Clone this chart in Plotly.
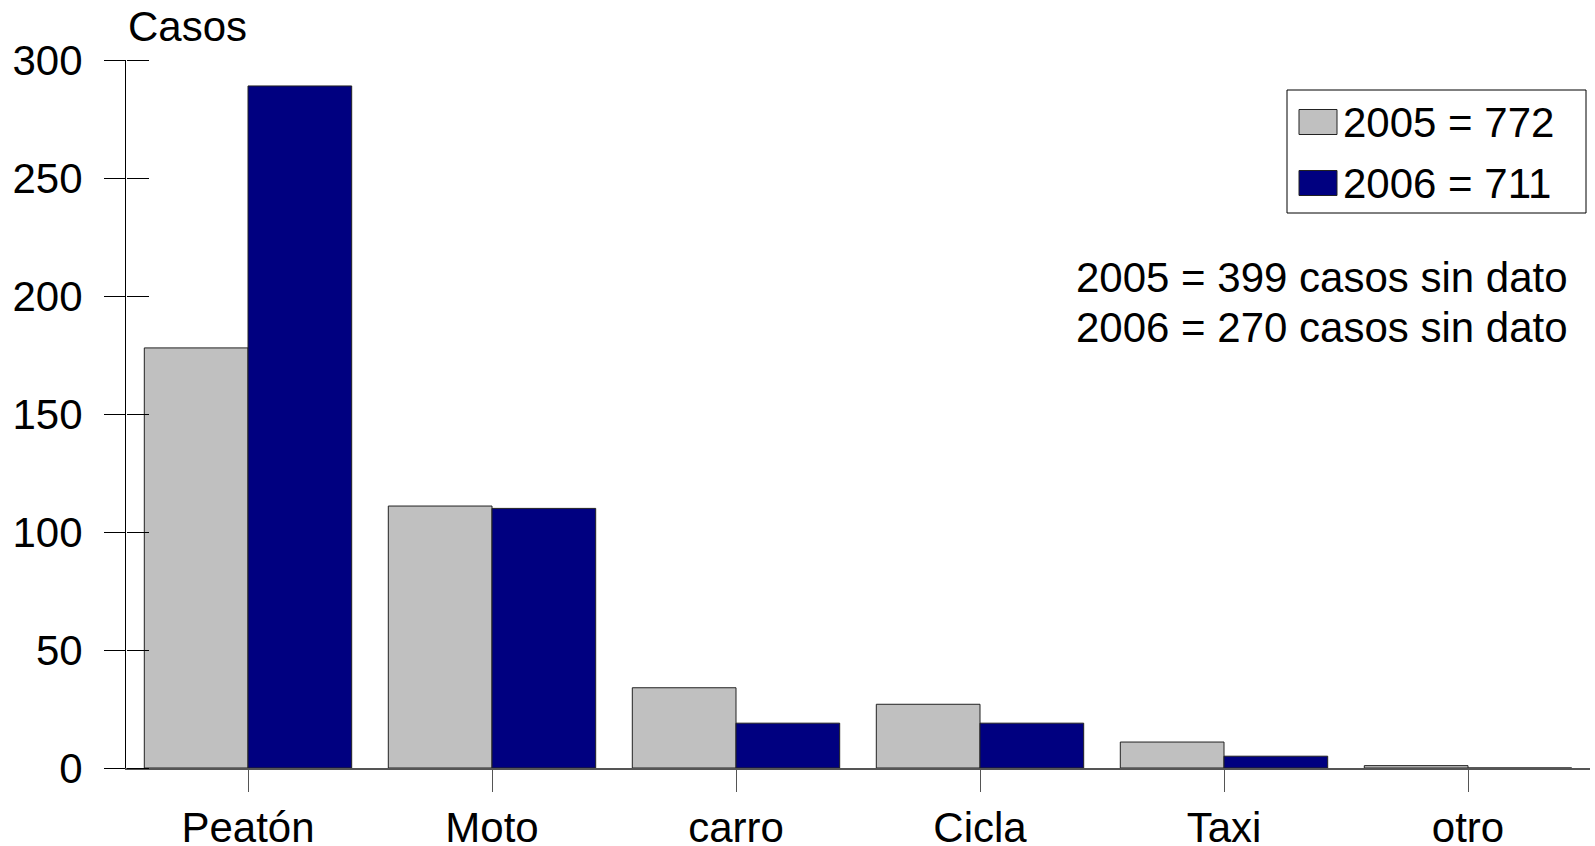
import plotly.graph_objects as go

# Tipo de víctima y número de casos por año
categorias = ["Peatón", "Moto", "carro", "Cicla", "Taxi", "otro"]
casos_2005 = [178, 111, 34, 27, 11, 1]
casos_2006 = [289, 110, 19, 19, 5, 0]

series = ["2005", "2006"]
totales = [772, 711]
sin_dato = [399, 270]

color_2005 = "#C0C0C0"
color_2006 = "#000080"
fuente = "Liberation Sans, Arial, Helvetica, sans-serif"
tam = 42

# Plot area in pixels (used to place the hand-built legend and notes)
W, H = 1595, 846
L, R, T, B = 126, 1590, 60, 768


def px_x(x):
    return (x - L) / (R - L)


def px_y(y):
    return (B - y) / (B - T)


fig = go.Figure()
for nombre, valores, color in [(series[0], casos_2005, color_2005),
                               (series[1], casos_2006, color_2006)]:
    fig.add_trace(go.Bar(
        x=categorias, y=valores, name=nombre,
        marker=dict(color=color, line=dict(color="#222222", width=1)),
        showlegend=False,
    ))

# invisible trace so the tick-only right-facing y axis is rendered
fig.add_trace(go.Scatter(x=categorias, y=casos_2005, yaxis="y2", mode="markers",
                         marker=dict(opacity=0), hoverinfo="skip", showlegend=False))

fig.update_layout(
    width=W, height=H,
    margin=dict(l=L, r=W - R, t=T, b=H - B, autoexpand=False),
    paper_bgcolor="white", plot_bgcolor="white",
    barmode="group", bargap=0.15, bargroupgap=0,
    font=dict(family=fuente, size=tam, color="black"),
    xaxis=dict(
        type="category", range=[-0.5, 5.5], automargin=False,
        showline=True, linecolor="#555555", linewidth=1.5,
        ticks="outside", ticklen=22, tickcolor="#555555", tickwidth=1,
        showgrid=False, zeroline=False,
        tickfont=dict(family=fuente, size=tam, color="black"),
    ),
    yaxis=dict(
        range=[0, 300], dtick=50, automargin=False,
        showline=True, linecolor="black", linewidth=1,
        ticks="outside", ticklen=21, tickcolor="black", tickwidth=1,
        showgrid=False, zeroline=False,
        tickfont=dict(family=fuente, size=tam, color="black"),
        ticklabelstandoff=13,
    ),
    yaxis2=dict(
        range=[0, 300], dtick=50, overlaying="y", side="right",
        anchor="free", position=0, automargin=False,
        showline=False, showticklabels=False,
        ticks="outside", ticklen=22, tickcolor="black", tickwidth=1,
        showgrid=False, zeroline=False,
    ),
)

# Y-axis title above the axis
fig.add_annotation(text="Casos", xref="paper", yref="paper", x=0, y=1,
                   xanchor="left", yanchor="bottom", showarrow=False,
                   yshift=8, font=dict(family=fuente, size=tam, color="black"))

# Legend box with swatches
fig.add_shape(type="rect", xref="paper", yref="paper",
              x0=px_x(1287), x1=px_x(1586), y0=px_y(213), y1=px_y(90),
              line=dict(color="black", width=1), fillcolor="white", layer="above")
filas = [122, 183]
for nombre, total, color, yc in zip(series, totales, [color_2005, color_2006], filas):
    fig.add_shape(type="rect", xref="paper", yref="paper",
                  x0=px_x(1299), x1=px_x(1337), y0=px_y(yc + 12.5), y1=px_y(yc - 12.5),
                  line=dict(color="#222222", width=1), fillcolor=color, layer="above")
    fig.add_annotation(text=f"{nombre} = {total}", xref="paper", yref="paper",
                       x=px_x(1341), y=px_y(yc), xanchor="left", yanchor="middle",
                       showarrow=False, font=dict(family=fuente, size=tam, color="black"))

# Notes on cases without data
for nombre, n, yc in zip(series, sin_dato, [277, 328]):
    fig.add_annotation(text=f"{nombre} = {n} casos sin dato", xref="paper", yref="paper",
                       x=px_x(1074), y=px_y(yc), xanchor="left", yanchor="middle",
                       showarrow=False, font=dict(family=fuente, size=tam, color="black"))

fig.write_html("out.html")
